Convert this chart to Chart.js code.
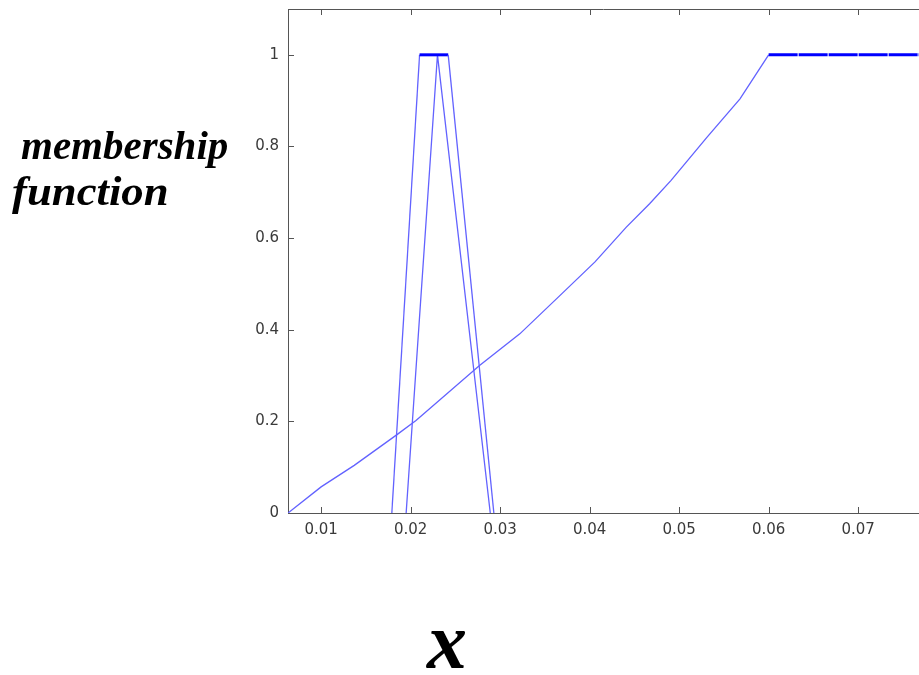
<!DOCTYPE html>
<html>
<head>
<meta charset="utf-8">
<script src="https://cdn.jsdelivr.net/npm/chart.js@4/dist/chart.umd.min.js"></script>
<style>
  body { margin: 0; background: #fff; overflow: hidden; }
  #wrap { position: relative; width: 919px; height: 675px; }
  .lbl { position: absolute; font-family: "Liberation Serif", "Times New Roman", serif; font-weight: bold; font-style: italic; color: #000; white-space: nowrap; line-height: 1; transform-origin: 0 0; }
</style>
</head>
<body>
<div id="wrap">
  <canvas id="chart" width="919" height="675"></canvas>
  <div class="lbl" style="left:21px; top:125px; font-size:41px;">membership</div>
  <div class="lbl" style="left:12px; top:169px; font-size:43px; transform:scaleX(1.04);">function</div>
  <div class="lbl" style="left:427px; top:601px; font-size:80px;">x</div>
</div>
<script>
// trapezoid
const trapX = [0.0179, 0.0210, 0.0242, 0.0293];
const trapY = [0, 1, 1, 0];
// triangle
const triX = [0.0195, 0.0230, 0.0289];
const triY = [0, 1, 0];
// rising curve, then flat at 1
const curveX = [0.0063, 0.0100, 0.0137, 0.0184, 0.0206, 0.0277, 0.0322, 0.0367, 0.0406, 0.0441, 0.0467, 0.0491, 0.0531, 0.0568, 0.0600, 0.0800];
const curveY = [0, 0.057, 0.104, 0.170, 0.202, 0.322, 0.391, 0.475, 0.548, 0.624, 0.675, 0.726, 0.820, 0.904, 1, 1];

const xTicks = [0.01, 0.02, 0.03, 0.04, 0.05, 0.06, 0.07];
const yTicks = [0, 0.2, 0.4, 0.6, 0.8, 1];

const toPts = (xs, ys) => xs.map((x, i) => ({ x: x, y: ys[i] }));
const thin = '#6262ff';
const flat = c => c.p0.parsed.y === 1 && c.p1.parsed.y === 1;

function ds(xs, ys, dash) {
  return {
    data: toPts(xs, ys),
    borderColor: thin,
    borderWidth: 1.3,
    pointRadius: 0,
    tension: 0,
    segment: {
      borderWidth: c => flat(c) ? 3 : 1.3,
      borderColor: c => flat(c) ? '#0000ff' : thin,
      borderDash: c => (dash && flat(c)) ? [29, 1] : undefined
    }
  };
}

// inward ticks + top frame line, MATLAB style
const frame = {
  id: 'frame',
  afterDraw(chart) {
    const { ctx, chartArea: a, scales } = chart;
    ctx.save();
    ctx.strokeStyle = '#555';
    ctx.lineWidth = 1;
    ctx.beginPath();
    ctx.moveTo(a.left, a.top + 0.5);
    ctx.lineTo(a.right, a.top + 0.5);
    xTicks.forEach(v => {
      const px = Math.round(scales.x.getPixelForValue(v)) + 0.5;
      ctx.moveTo(px, a.bottom); ctx.lineTo(px, a.bottom - 6);
      ctx.moveTo(px, a.top); ctx.lineTo(px, a.top + 6);
    });
    yTicks.forEach(v => {
      const py = Math.round(scales.y.getPixelForValue(v)) + 0.5;
      ctx.moveTo(a.left, py); ctx.lineTo(a.left + 6, py);
    });
    ctx.stroke();
    ctx.restore();
  }
};

new Chart(document.getElementById('chart'), {
  type: 'line',
  data: {
    datasets: [ds(trapX, trapY, false), ds(triX, triY, false), ds(curveX, curveY, true)]
  },
  options: {
    responsive: false,
    devicePixelRatio: 1,
    animation: false,
    layout: { padding: { top: 9, left: 0, right: 0, bottom: 0 } },
    plugins: { legend: { display: false }, tooltip: { enabled: false } },
    scales: {
      x: {
        type: 'linear',
        min: 0.0063,
        max: 0.0768,
        afterBuildTicks: s => { s.ticks = xTicks.map(v => ({ value: v })); },
        afterFit: s => { s.height = 162; s.paddingLeft = 0; s.paddingRight = 0; },
        grid: { display: false, drawTicks: false },
        border: { display: true, color: '#555', width: 1 },
        ticks: {
          padding: 8,
          color: '#3a3a3a',
          font: { family: 'DejaVu Sans', size: 15 },
          callback: v => v.toFixed(2)
        }
      },
      y: {
        min: 0,
        max: 1.1,
        afterBuildTicks: s => { s.ticks = yTicks.map(v => ({ value: v })); },
        afterFit: s => { s.width = 288; s.paddingTop = 0; s.paddingBottom = 0; },
        grid: { display: false, drawTicks: false },
        border: { display: true, color: '#555', width: 1 },
        ticks: {
          padding: 9,
          color: '#3a3a3a',
          font: { family: 'DejaVu Sans', size: 15 },
          callback: v => String(+v.toFixed(1))
        }
      }
    }
  },
  plugins: [frame]
});
</script>
</body>
</html>
